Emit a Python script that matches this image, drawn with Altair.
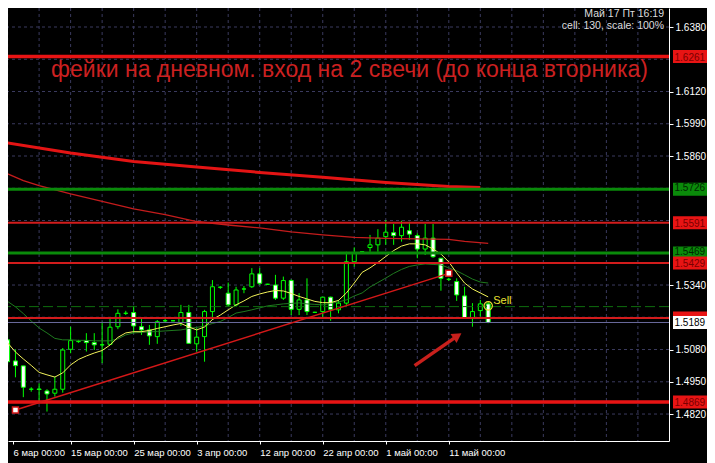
import json
import altair as alt
import pandas as pd

# ---------------- data ----------------
bars = list(range(62))
opens = [1.5119,1.5034,1.5014,1.4920,1.4921,1.4913,1.4904,1.4920,1.5081,1.5112,
         1.5116,1.5108,1.5099,1.5101,1.5172,1.5226,1.5229,1.5172,1.5159,1.5132,
         1.5196,1.5196,1.5188,1.5229,1.5103,1.5132,1.5233,1.5331,1.5307,1.5260,
         1.5324,1.5333,1.5385,1.5343,1.5340,1.5287,1.5358,1.5242,1.5280,1.5230,
         1.5233,1.5291,1.5240,1.5267,1.5434,1.5474,1.5491,1.5502,1.5535,1.5551,
         1.5539,1.5559,1.5539,1.5485,1.5529,1.5448,1.5363,1.5354,1.5296,1.5209,
         1.5237,1.5264]
highs = [1.5152,1.5081,1.5014,1.4928,1.4944,1.4920,1.4971,1.5086,1.5172,1.5119,
         1.5146,1.5146,1.5192,1.5206,1.5242,1.5236,1.5256,1.5206,1.5179,1.5199,
         1.5206,1.5199,1.5260,1.5260,1.5166,1.5240,1.5360,1.5336,1.5350,1.5333,
         1.5336,1.5408,1.5408,1.5345,1.5381,1.5374,1.5363,1.5307,1.5367,1.5232,
         1.5291,1.5293,1.5280,1.5474,1.5492,1.5476,1.5542,1.5565,1.5602,1.5586,
         1.5599,1.5595,1.5549,1.5586,1.5586,1.5448,1.5369,1.5367,1.5333,1.5267,
         1.5280,1.5273]
lows = [1.5018,1.4968,1.4888,1.4910,1.4870,1.4830,1.4890,1.4906,1.5065,1.5107,
        1.5072,1.5078,1.5025,1.5099,1.5162,1.5219,1.5146,1.5139,1.5099,1.5103,
        1.5188,1.5194,1.5175,1.5103,1.5072,1.5031,1.5199,1.5324,1.5253,1.5253,
        1.5307,1.5328,1.5340,1.5341,1.5280,1.5280,1.5219,1.5219,1.5219,1.5228,
        1.5206,1.5196,1.5226,1.5260,1.5414,1.5472,1.5474,1.5474,1.5502,1.5502,
        1.5515,1.5522,1.5448,1.5461,1.5450,1.5317,1.5356,1.5276,1.5206,1.5172,
        1.5213,1.5186]
closes = [1.5031,1.5015,1.4928,1.4920,1.4919,1.4901,1.4920,1.5078,1.5116,1.5112,
          1.5108,1.5099,1.5099,1.5170,1.5226,1.5226,1.5175,1.5159,1.5135,1.5192,
          1.5196,1.5196,1.5229,1.5105,1.5130,1.5233,1.5333,1.5331,1.5260,1.5320,
          1.5324,1.5385,1.5347,1.5343,1.5287,1.5358,1.5242,1.5280,1.5233,1.5230,
          1.5291,1.5242,1.5267,1.5434,1.5468,1.5474,1.5502,1.5529,1.5553,1.5539,
          1.5573,1.5545,1.5485,1.5529,1.5454,1.5367,1.5363,1.5300,1.5209,1.5233,
          1.5264,1.5189]

ma_fast = [1.5107,1.5070,1.5042,1.5016,1.4988,1.4978,1.4969,1.4986,1.5018,1.5040,
           1.5054,1.5066,1.5076,1.5098,1.5129,1.5147,1.5152,1.5152,1.5157,1.5165,
           1.5172,1.5179,1.5185,1.5171,1.5159,1.5171,1.5201,1.5219,1.5240,1.5260,
           1.5276,1.5294,1.5304,1.5312,1.5318,1.5316,1.5306,1.5294,1.5284,1.5274,
           1.5269,1.5269,1.5278,1.5308,1.5348,1.5391,1.5409,1.5431,1.5455,1.5479,
           1.5497,1.5506,1.5506,1.5502,1.5485,1.5465,1.5433,1.5389,1.5348,1.5324,
           1.5308,1.5292]
ma_mid = [1.5274,1.5252,1.5225,1.5195,1.5167,1.5147,1.5125,1.5119,1.5119,1.5117,
          1.5117,1.5115,1.5115,1.5115,1.5123,1.5139,1.5147,1.5149,1.5151,1.5153,
          1.5155,1.5157,1.5159,1.5165,1.5169,1.5175,1.5185,1.5193,1.5209,1.5227,
          1.5233,1.5240,1.5248,1.5256,1.5260,1.5264,1.5266,1.5268,1.5264,1.5262,
          1.5260,1.5266,1.5272,1.5280,1.5296,1.5308,1.5332,1.5350,1.5368,1.5387,
          1.5403,1.5415,1.5421,1.5425,1.5423,1.5421,1.5409,1.5397,1.5381,1.5364,
          1.5352,1.5348]
ma_slow_bars = [0,2,4,8,12,16,20,24,28,32,36,40,44,48,52,56,58,61]
ma_slow = [1.5788,1.5761,1.5741,1.5707,1.5677,1.5647,1.5624,1.5596,1.5582,
           1.5570,1.5554,1.5542,1.5532,1.5528,1.5526,1.5524,1.5516,1.5508]
ma_long_bars = [0,8,16,24,32,40,48,56,60]
ma_long = [1.5913,1.5872,1.5838,1.5816,1.5794,1.5774,1.5753,1.5737,1.5733]

trend_bars = [1, 56]
trend_prices = [1.4836, 1.5387]

x_tick_bars = [0, 8, 16, 24, 32, 40, 48, 56]
x_tick_labels = ["6 мар 00:00", "15 мар 00:00", "25 мар 00:00", "3 апр 00:00",
                 "12 апр 00:00", "22 апр 00:00", "1 май 00:00", "11 май 00:00"]
x_grid_bars = list(range(0, 84, 4))
y_grid = [1.4820,1.4950,1.5080,1.5210,1.5340,1.5470,1.5600,1.5730,1.5860,
          1.5990,1.6120,1.6250,1.6380]
y_labels = [1.6380,1.6120,1.5990,1.5860,1.5340,1.5080,1.4950,1.4820]

red_thick_levels = [1.6261, 1.4869]
red_thin_levels = [1.5591, 1.5429, 1.5207]
green_levels = [1.5726, 1.5469]
dash_levels = [1.5253]
bid_levels = [1.5189]

red_tags = [1.6261, 1.5591, 1.5429, 1.4869]
hidden_red_tags = [1.5207]
green_tags = [1.5726, 1.5469]
white_tags = [1.5189]

sell_bar = [61]
sell_price = [1.5256]
sell_text_price = [1.5276]
arrow_bars = [51.66, 57.1]
arrow_prices = [1.5015, 1.5135]
title_text = "фейки на дневном. вход на 2 свечи (до конца вторника)"
title_bar = [43.4]
title_price = [1.6177]
info_lines = ["Май 17 Пт 16:19", "cell: 130, scale: 100%"]

# ---------------- frames ----------------
candles = pd.DataFrame({"bar": bars, "open": opens, "high": highs,
                        "low": lows, "close": closes})
fast_df = pd.DataFrame({"bar": bars, "v": ma_fast})
mid_df = pd.DataFrame({"bar": bars, "v": ma_mid})
slow_df = pd.DataFrame({"bar": ma_slow_bars, "v": ma_slow})
long_df = pd.DataFrame({"bar": ma_long_bars, "v": ma_long})
trend_df = pd.DataFrame({"bar": trend_bars, "v": trend_prices})

# plot area: 661 x 433 px, 8 px per bar
XMIN, XMAX = 0.6875, 83.3125
XS = alt.Scale(domain=[XMIN, XMAX], nice=False, zero=False)
YS = alt.Scale(domain=[1.471132, 1.645659], nice=False, zero=False)
FONT = "Liberation Sans"
GRID = "#3a3a5e"

label_expr = json.dumps(x_tick_labels, ensure_ascii=False) + "[round(datum.value / 8)]"
axis_values = [max(b, XMIN) for b in x_tick_bars]

AX = alt.Axis(values=axis_values, labelExpr=label_expr, labelAlign="left",
              labelColor="#ffffff", labelFont=FONT, labelFontSize=9.5,
              tickColor="#ffffff", tickSize=3, domainColor="#ffffff",
              labelPadding=3, grid=False, title=None, labelOverlap=False,
              labelFlush=False)
AY = alt.Axis(orient="right", values=y_labels, format=".4f", labelColor="#ffffff",
              labelFont=FONT, labelFontSize=10, tickColor="#ffffff", tickSize=4,
              domainColor="#ffffff", labelPadding=2, grid=False, title=None,
              labelOverlap=False, labelFlush=False)

def X(field="bar"):
    return alt.X(f"{field}:Q", scale=XS, axis=AX)

def Y(field="v"):
    return alt.Y(f"{field}:Q", scale=YS, axis=AY)

# grid
vgrid = alt.Chart(pd.DataFrame({"bar": x_grid_bars})).mark_rule(
    color=GRID, strokeWidth=1, strokeDash=[3, 3]).encode(x=X())
hgrid = alt.Chart(pd.DataFrame({"v": y_grid})).mark_rule(
    color=GRID, strokeWidth=1, strokeDash=[3, 3]).encode(y=Y())

# candles
wicks = alt.Chart(candles).mark_rule(color="#00ff00", strokeWidth=1).encode(
    x=X(), y=Y("low"), y2="high")
bodies = alt.Chart(candles).mark_bar(size=4, stroke="#00ff00", strokeWidth=1).encode(
    x=X(), y=Y("open"), y2="close",
    fill=alt.when(alt.datum.open > alt.datum.close)
        .then(alt.value("#ffffff")).otherwise(alt.value("#000000")))

# moving averages
ma_long_l = alt.Chart(long_df).mark_line(color="#e41414", strokeWidth=3).encode(x=X(), y=Y())
ma_slow_l = alt.Chart(slow_df).mark_line(color="#c41c1c", strokeWidth=1.3).encode(x=X(), y=Y())
ma_mid_l = alt.Chart(mid_df).mark_line(color="#1f7a1f", strokeWidth=1).encode(x=X(), y=Y())
ma_fast_l = alt.Chart(fast_df).mark_line(color="#f2f25a", strokeWidth=1).encode(x=X(), y=Y())

def hlines(levels, color, width, dash=None):
    kw = dict(color=color, strokeWidth=width)
    if dash:
        kw["strokeDash"] = dash
    return alt.Chart(pd.DataFrame({"v": levels})).mark_rule(**kw).encode(y=Y())

lv_dash = hlines(dash_levels, "#0e6e0e", 1, [10, 4])
lv_bid = hlines(bid_levels, "#6a6a9c", 1)
lv_red_thin = hlines(red_thin_levels, "#d21c1c", 2)
lv_green = hlines(green_levels, "#0a8a0a", 3)
lv_red_thick = hlines(red_thick_levels, "#e81414", 3.5)

trend = alt.Chart(trend_df).mark_line(color="#d41818", strokeWidth=1.5).encode(x=X(), y=Y())
trend_pts = alt.Chart(trend_df).mark_point(
    shape="square", size=36, filled=True, fill="#ffffff", stroke="#d41818",
    strokeWidth=1.5, opacity=1).encode(x=X(), y=Y())

arrow_df = pd.DataFrame({"bar": arrow_bars, "v": arrow_prices})
arrow = alt.Chart(arrow_df).mark_line(color="#c8201c", strokeWidth=3.5).encode(x=X(), y=Y())
arrow_head = alt.Chart(arrow_df.tail(1)).mark_point(
    shape="triangle-up", size=120, filled=True, color="#c8201c", angle=56,
    opacity=1).encode(x=X(), y=Y())

sell_df = pd.DataFrame({"bar": sell_bar, "v": sell_price, "t": sell_text_price})
sell_circle = alt.Chart(sell_df).mark_point(
    shape="circle", size=70, filled=False, stroke="#e8e030", strokeWidth=1.2,
    opacity=1).encode(x=X(), y=Y())
sell_text = alt.Chart(sell_df).mark_text(
    text="Sell", align="left", baseline="middle", dx=5, font=FONT,
    fontSize=11, color="#e8e030").encode(x=X(), y=Y("t"))

title_df = pd.DataFrame({"bar": title_bar, "v": title_price})
title = alt.Chart(title_df).mark_text(
    text=title_text, align="center", baseline="alphabetic", font=FONT,
    fontSize=23, color="#cc2020").encode(x=X(), y=Y())

info1 = alt.Chart(pd.DataFrame({"t": [info_lines[0]]})).mark_text(
    align="right", baseline="alphabetic", font=FONT, fontSize=10.5,
    color="#dddddd").encode(text="t:N", x=alt.value(656), y=alt.value(8.5))
info2 = alt.Chart(pd.DataFrame({"t": [info_lines[1]]})).mark_text(
    align="right", baseline="alphabetic", font=FONT, fontSize=10.5,
    color="#dddddd").encode(text="t:N", x=alt.value(656), y=alt.value(21))

def tags(levels, fill, text_color, with_text=True, text_dy=0.5):
    df = pd.DataFrame({"v": levels})
    out = [alt.Chart(df).mark_tick(thickness=13, size=36, color=fill, opacity=1).encode(
        y=Y(), x=alt.value(683))]
    if with_text:
        out.append(alt.Chart(df).mark_text(
            align="left", baseline="middle", dy=text_dy, font=FONT, fontSize=10,
            color=text_color).encode(y=Y(), x=alt.value(666.5),
                                     text=alt.Text("v:Q", format=".4f")))
    return out

layers = [vgrid, hgrid, wicks, bodies, ma_long_l, ma_slow_l, ma_mid_l, ma_fast_l,
          lv_dash, lv_bid, lv_red_thin, lv_green, lv_red_thick,
          trend, trend_pts, arrow, arrow_head, sell_circle, sell_text, title,
          info1, info2]
layers += tags(green_tags, "#0a8a0a", "#002800", text_dy=-1.5)
layers += tags(red_tags, "#e81414", "#7a0000", text_dy=1.5)
layers += tags(hidden_red_tags, "#e81414", "#7a0000", with_text=False)
layers += tags(white_tags, "#ffffff", "#000000")

chart = alt.layer(*layers).properties(
    width=661, height=433,
    padding={"left": 0, "top": 0, "right": 38, "bottom": 22},
    autosize=alt.AutoSizeParams(type="none"),
    background="#000000",
).configure_view(stroke=None)

chart.save("out.html", embed_options={"renderer": "svg", "actions": False})
